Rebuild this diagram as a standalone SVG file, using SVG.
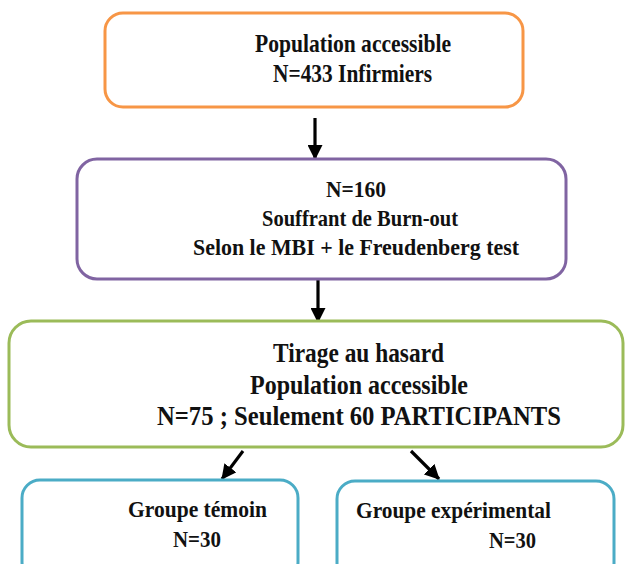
<svg xmlns="http://www.w3.org/2000/svg" width="626" height="564" viewBox="0 0 626 564">
<defs>
<style>
.box{fill:#ffffff;stroke-width:3}
.t{font-family:"Liberation Serif","Times New Roman",serif;font-weight:bold;fill:#111111}
.conn{stroke:#000;stroke-width:3.2;fill:none}
</style>
<marker id="ah" markerUnits="userSpaceOnUse" markerWidth="15" markerHeight="15" refX="14" refY="7.5" orient="auto">
<path d="M0,0 L15,7.5 L0,15 z" fill="#000"/>
</marker>
</defs>
<rect width="626" height="564" fill="#ffffff"/>
<g id="connectors">
<line class="conn" x1="315" y1="118" x2="315" y2="159" marker-end="url(#ah)"/>
<line class="conn" x1="318" y1="280" x2="318" y2="322" marker-end="url(#ah)"/>
<line class="conn" x1="243" y1="451" x2="222" y2="479" marker-end="url(#ah)"/>
<line class="conn" x1="411" y1="451" x2="439" y2="479" marker-end="url(#ah)"/>
</g>
<g id="node-population">
<rect class="box" x="105" y="13" width="418" height="94" rx="18" stroke="#F79646"/>
<text class="t" font-size="26" x="255" y="52" textLength="196" lengthAdjust="spacingAndGlyphs">Population accessible</text>
<text class="t" font-size="26" x="273" y="82" textLength="159" lengthAdjust="spacingAndGlyphs">N=433 Infirmiers</text>
</g>
<g id="node-burnout">
<rect class="box" x="77" y="159" width="489" height="120" rx="20" stroke="#8064A2"/>
<text class="t" font-size="24" x="326" y="197" textLength="60" lengthAdjust="spacingAndGlyphs">N=160</text>
<text class="t" font-size="24" x="262" y="226" textLength="196" lengthAdjust="spacingAndGlyphs">Souffrant de Burn-out</text>
<text class="t" font-size="24" x="193" y="255" textLength="326" lengthAdjust="spacingAndGlyphs">Selon le MBI + le Freudenberg test</text>
</g>
<g id="node-tirage">
<rect class="box" x="9" y="321" width="614" height="126" rx="22" stroke="#9BBB59"/>
<text class="t" font-size="27" x="273" y="362" textLength="171" lengthAdjust="spacingAndGlyphs">Tirage au hasard</text>
<text class="t" font-size="27" x="250" y="394" textLength="218" lengthAdjust="spacingAndGlyphs">Population accessible</text>
<text class="t" font-size="27" x="157" y="425" textLength="404" lengthAdjust="spacingAndGlyphs">N=75 ; Seulement 60 PARTICIPANTS</text>
</g>
<g id="node-temoin">
<rect class="box" x="22" y="480" width="276" height="100" rx="18" stroke="#4BACC6"/>
<text class="t" font-size="24" x="128" y="517" textLength="139" lengthAdjust="spacingAndGlyphs">Groupe témoin</text>
<text class="t" font-size="24" x="173" y="547" textLength="48" lengthAdjust="spacingAndGlyphs">N=30</text>
</g>
<g id="node-experimental">
<rect class="box" x="337" y="481" width="277" height="100" rx="18" stroke="#4BACC6"/>
<text class="t" font-size="24" x="356" y="518" textLength="195" lengthAdjust="spacingAndGlyphs">Groupe expérimental</text>
<text class="t" font-size="24" x="489" y="548" textLength="47" lengthAdjust="spacingAndGlyphs">N=30</text>
</g>
</svg>
